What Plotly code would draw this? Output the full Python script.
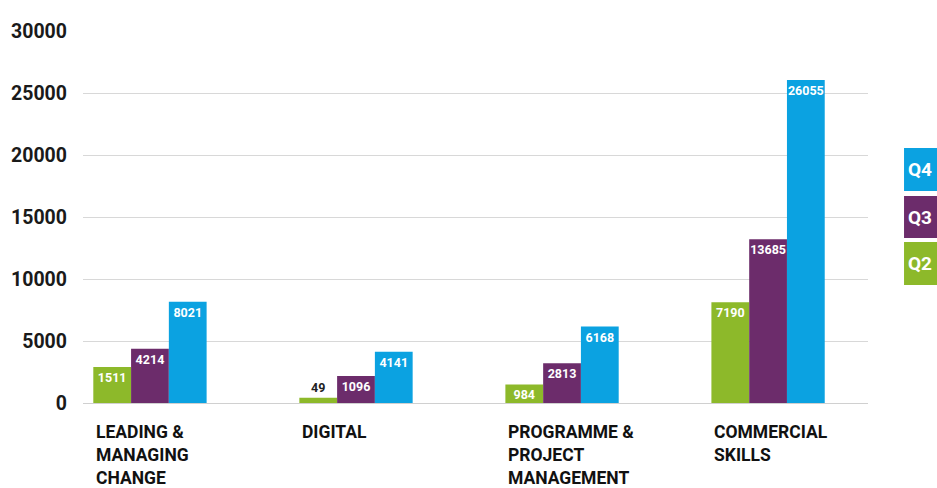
import plotly.graph_objects as go

categories = ["LEADING &<br>MANAGING<br>CHANGE", "DIGITAL", "PROGRAMME &<br>PROJECT<br>MANAGEMENT", "COMMERCIAL<br>SKILLS"]
cat_keys = ["Leading & Managing Change", "Digital", "Programme & Project Management", "Commercial Skills"]

# bar heights as drawn in the picture
q2_values = [2900, 430, 1500, 8120]
q3_values = [4380, 2180, 3200, 13200]
q4_values = [8170, 4140, 6160, 26050]
# value labels printed on the bars
q2_labels = ["1511", "49", "984", "7190"]
q3_labels = ["4214", "1096", "2813", "13685"]
q4_labels = ["8021", "4141", "6168", "26055"]

y_ticks = [0, 5000, 10000, 15000, 20000, 25000, 30000]
series_names = ["Q2", "Q3", "Q4"]

GREEN = "#8DB92A"
PURPLE = "#6C2C6B"
BLUE = "#0BA2E1"
FONT = "Roboto, DejaVu Sans, sans-serif"

fig = go.Figure()

def add(name, vals, labels, color):
    pos = ["outside" if v < 1000 else "inside" for v in vals]
    tcol = ["#222222" if v < 1000 else "white" for v in vals]
    fig.add_trace(go.Bar(
        x=cat_keys, y=vals, name=name, marker=dict(color=color, line=dict(width=0)),
        text=labels, textposition=pos, insidetextanchor="end", textangle=0,
        textfont=dict(family=FONT, size=12.5, color=tcol, weight="bold"),
        constraintext="none", cliponaxis=False, showlegend=False,
    ))

add("Q2", q2_values, q2_labels, GREEN)
add("Q3", q3_values, q3_labels, PURPLE)
add("Q4", q4_values, q4_labels, BLUE)

fig.update_layout(
    width=937, height=488,
    margin=dict(l=83, r=69, t=31, b=85),
    paper_bgcolor="white", plot_bgcolor="white",
    barmode="group", bargap=0.45, bargroupgap=0,
    font=dict(family=FONT, color="#1a1a1a"),
    xaxis=dict(range=[-0.325, 3.485], showticklabels=False, showgrid=False,
               zeroline=False, showline=False, ticks=""),
    yaxis=dict(range=[0, 30000], tickvals=y_ticks, ticktext=[str(v) for v in y_ticks],
               showgrid=True, gridcolor="#d8d8d8", gridwidth=1,
               zeroline=True, zerolinecolor="#d0d0d0", zerolinewidth=1,
               tickfont=dict(family=FONT, size=19.5, color="#1a1a1a", weight="bold"),
               ticklabelstandoff=15, showline=False),
    uniformtext=dict(mode=False),
)

# category labels, left aligned under each group
for key, lab in zip(cat_keys, categories):
    fig.add_annotation(x=key, xref="x", y=-0.045, yref="paper", text=lab,
                       showarrow=False, xanchor="left", yanchor="top", align="left",
                       xshift=-56, font=dict(family=FONT, size=17.5, color="#111111", weight="bold"))

# legend boxes at the right edge (cut off like the original)
legend = [("Q4", BLUE, 0.570, 0.6855), ("Q3", PURPLE, 0.4435, 0.5565), ("Q2", GREEN, 0.3172, 0.4328)]
for name, color, y0, y1 in legend:
    fig.add_shape(type="rect", xref="paper", yref="paper", x0=1.0459, x1=1.2, y0=y0, y1=y1,
                  fillcolor=color, line=dict(width=0), layer="above")
    fig.add_annotation(x=1.049, xref="paper", y=(y0 + y1) / 2, yref="paper", text=name,
                       showarrow=False, xanchor="left", yanchor="middle",
                       font=dict(family=FONT, size=19, color="white", weight="bold"))

fig.write_html("out.html")
